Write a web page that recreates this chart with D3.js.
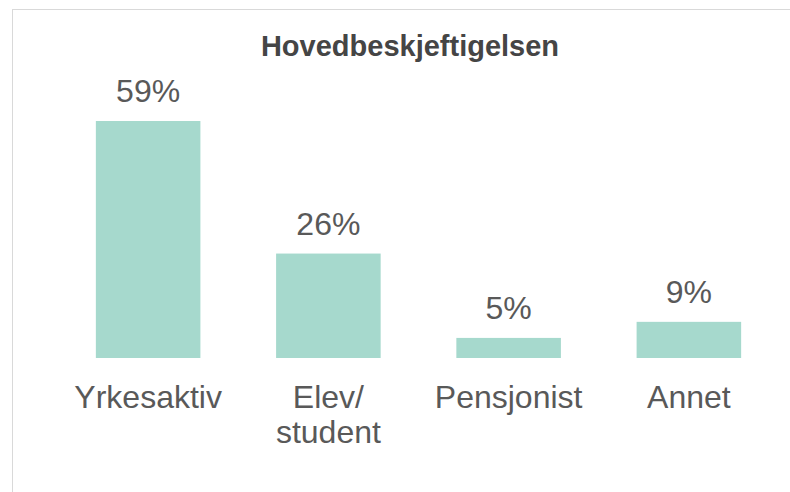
<!DOCTYPE html>
<html>
<head>
<meta charset="utf-8">
<script src="https://cdn.jsdelivr.net/npm/d3@7"></script>
<style>
  body { margin: 0; background: #fff; }
  svg { display: block; font-family: Arial, "Liberation Sans", sans-serif; }
</style>
</head>
<body>
<script>
// DATA //
const categories = ['Yrkesaktiv', 'Elev/\nstudent', 'Pensjonist', 'Annet'];
const values = [59, 26, 5, 9];
const title = 'Hovedbeskjeftigelsen';

const width = 790,
    height = 492;

const svg = d3.select('body')
    .append('svg')
    .attr('width', width)
    .attr('height', height);

// frame (only top and left edges visible)
svg.append('rect')
    .attr('x', 12.5)
    .attr('y', 9.5)
    .attr('width', 820)
    .attr('height', 520)
    .attr('fill', 'none')
    .attr('stroke', '#d9d9d9');

// scales
const x = d3.scaleBand()
    .domain(categories)
    .range([58, 779])
    .paddingInner(0.42)
    .paddingOuter(0.21);

const baseline = 358;
const y = d3.scaleLinear()
    .domain([0, 59])
    .range([baseline, 121]);

// title
svg.append('text')
    .attr('x', 410)
    .attr('y', 56)
    .attr('text-anchor', 'middle')
    .style('font-size', '29px')
    .style('font-weight', 'bold')
    .style('fill', '#454545')
    .text(title);

// bars
svg.selectAll('.bar')
    .data(values)
    .join('rect')
    .classed('bar', true)
    .attr('x', (d, i) => x(categories[i]))
    .attr('y', d => y(d))
    .attr('width', x.bandwidth())
    .attr('height', d => baseline - y(d))
    .attr('fill', '#a6d9cd');

// value labels
svg.selectAll('.val')
    .data(values)
    .join('text')
    .classed('val', true)
    .attr('x', (d, i) => x(categories[i]) + x.bandwidth() / 2)
    .attr('y', d => y(d) - 19)
    .attr('text-anchor', 'middle')
    .style('font-size', '32px')
    .style('fill', '#595959')
    .text(d => d + '%');

// category labels (multi-line)
const cat = svg.selectAll('.cat')
    .data(categories)
    .join('text')
    .classed('cat', true)
    .attr('x', d => x(d) + x.bandwidth() / 2)
    .attr('y', 408)
    .attr('text-anchor', 'middle')
    .style('font-size', '32px')
    .style('fill', '#595959');

cat.selectAll('tspan')
    .data(d => d.split('\n').map(s => ({ s: s, cx: x(d) + x.bandwidth() / 2 })))
    .join('tspan')
    .attr('x', d => d.cx)
    .attr('dy', (d, i) => i === 0 ? 0 : 35)
    .text(d => d.s);
</script>
</body>
</html>
